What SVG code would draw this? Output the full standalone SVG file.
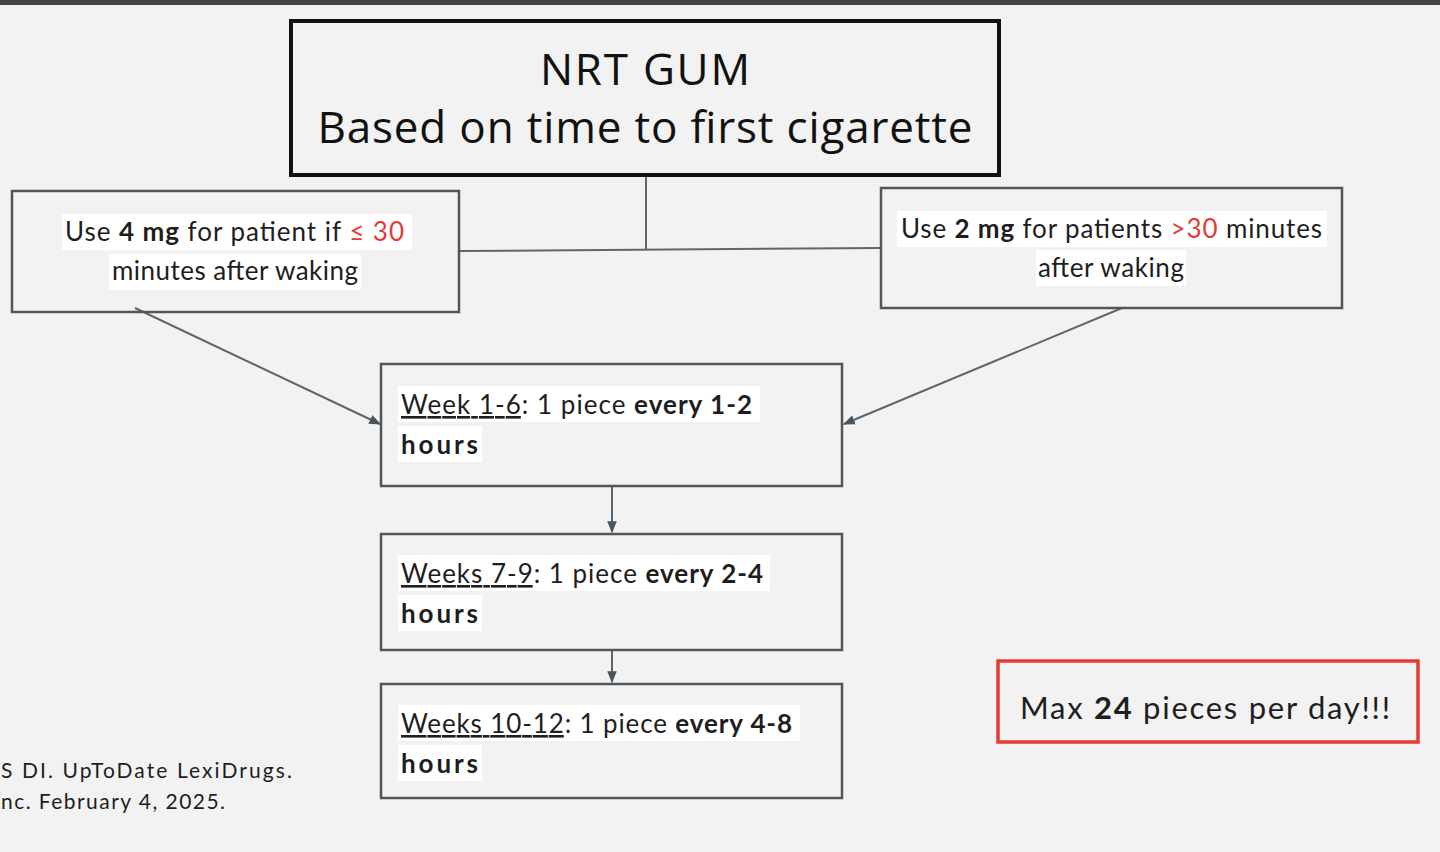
<svg xmlns="http://www.w3.org/2000/svg" width="1440" height="852" viewBox="0 0 1440 852">
<style>
.t{font-family:Lato,"Open Sans","Liberation Sans",sans-serif;fill:#1e1e1e}
.ti{font-family:"Open Sans",Lato,"Liberation Sans",sans-serif;font-weight:500;fill:#111}
.b{font-weight:bold}
.r{fill:#e53a35}
.u{text-decoration:underline}
.box{fill:none;stroke:#555;stroke-width:2.5}
.hl{fill:#ffffff}
.con{fill:none;stroke:#5c666e;stroke-width:2}
</style>
<defs>
<marker id="ah" viewBox="0 0 10 10" refX="9" refY="5" markerWidth="12" markerHeight="12" orient="auto-start-reverse" markerUnits="userSpaceOnUse">
<path d="M0,1 L10,5 L0,9 z" fill="#4a555e"/>
</marker>
</defs>
<rect width="1440" height="852" fill="#f2f2f2"/>
<rect x="0" y="0" width="1440" height="5" fill="#444"/>

<g id="connectors">
<polyline class="con" points="646,176 646,249"/>
<line class="con" x1="459" y1="251" x2="881" y2="248"/>
<line class="con" x1="135" y1="308" x2="380" y2="424" marker-end="url(#ah)"/>
<line class="con" x1="1122" y1="308" x2="844" y2="424" marker-end="url(#ah)"/>
<line class="con" x1="612" y1="487" x2="612" y2="532" marker-end="url(#ah)"/>
<line class="con" x1="612" y1="651" x2="612" y2="682" marker-end="url(#ah)"/>
</g>

<g id="title">
<rect x="291" y="21" width="708" height="154" fill="none" stroke="#111" stroke-width="4"/>
<text class="ti" x="645" y="85" font-size="44" text-anchor="middle" textLength="210">NRT GUM</text>
<text class="ti" x="645" y="143" font-size="44" text-anchor="middle" textLength="655">Based on time to first cigarette</text>
</g>

<g id="left">
<rect class="box" x="12" y="191" width="447" height="121"/>
<rect class="hl" x="62" y="214" width="350" height="36"/>
<rect class="hl" x="109" y="254" width="252" height="36"/>
<text class="t" x="65" y="241" font-size="26" textLength="339">Use <tspan class="b">4 mg</tspan> for patient if <tspan class="r">≤ 30</tspan></text>
<text class="t" x="235" y="280" font-size="26" text-anchor="middle" textLength="246">minutes after waking</text>
</g>

<g id="right">
<rect class="box" x="881" y="188" width="461" height="120"/>
<rect class="hl" x="897" y="211" width="430" height="36"/>
<rect class="hl" x="1036" y="250" width="150" height="36"/>
<text class="t" x="901" y="238" font-size="26" textLength="421">Use <tspan class="b">2 mg</tspan> for patients <tspan class="r">&gt;30</tspan> minutes</text>
<text class="t" x="1111" y="277" font-size="26" text-anchor="middle" textLength="146">after waking</text>
</g>

<g id="week1">
<rect class="box" x="381" y="364" width="461" height="122"/>
<rect class="hl" x="398" y="386" width="362" height="36"/>
<rect class="hl" x="398" y="426" width="84" height="36"/>
<text class="t" x="401" y="414" font-size="26" textLength="351"><tspan class="u">Week 1-6</tspan>: 1 piece <tspan class="b">every 1-2</tspan></text>
<text class="t b" x="401" y="454" font-size="26" textLength="77">hours</text>
</g>

<g id="week2">
<rect class="box" x="381" y="534" width="461" height="116"/>
<rect class="hl" x="398" y="555" width="372" height="36"/>
<rect class="hl" x="398" y="595" width="84" height="36"/>
<text class="t" x="401" y="583" font-size="26" textLength="362"><tspan class="u">Weeks 7-9</tspan>: 1 piece <tspan class="b">every 2-4</tspan></text>
<text class="t b" x="401" y="623" font-size="26" textLength="77">hours</text>
</g>

<g id="week3">
<rect class="box" x="381" y="684" width="461" height="114"/>
<rect class="hl" x="398" y="705" width="402" height="36"/>
<rect class="hl" x="398" y="745" width="84" height="36"/>
<text class="t" x="401" y="733" font-size="26" textLength="391"><tspan class="u">Weeks 10-12</tspan>: 1 piece <tspan class="b">every 4-8</tspan></text>
<text class="t b" x="401" y="773" font-size="26" textLength="77">hours</text>
</g>

<g id="max">
<rect x="998" y="661" width="420" height="81" fill="none" stroke="#e53a35" stroke-width="3.5"/>
<text class="t" x="1020" y="719" font-size="31" fill="#2a2a2a" textLength="370">Max <tspan class="b">24</tspan> pieces per day!!!</text>
</g>

<g id="footer">
<text class="t" x="1" y="778" font-size="21" fill="#333" textLength="291">S DI. UpToDate LexiDrugs.</text>
<text class="t" x="1" y="809" font-size="21" fill="#333" textLength="224">nc. February 4, 2025.</text>
</g>
</svg>
